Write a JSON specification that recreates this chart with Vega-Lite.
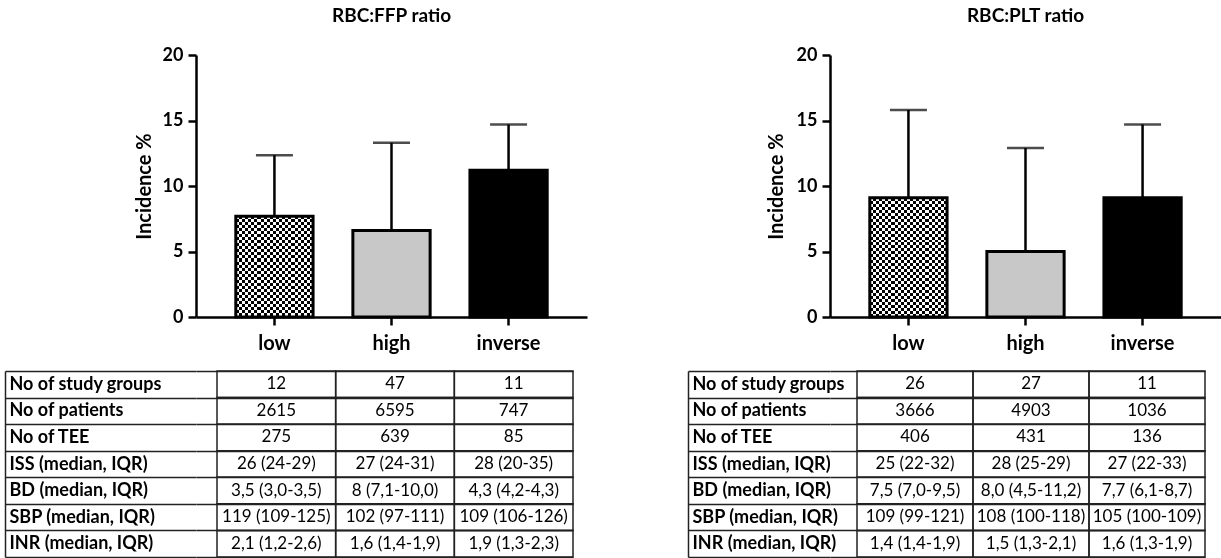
{
  "$schema": "https://vega.github.io/schema/vega-lite/v6.json",
  "padding": {"left": 4, "top": 7, "right": 0, "bottom": 0},
  "background": "white",
  "config": {"font": "Lato", "view": {"stroke": null}},
  "datasets": {
    "bars": [
      {"chart": "FFP", "group": "low", "value": 7.7, "upper": 12.35},
      {"chart": "FFP", "group": "high", "value": 6.6, "upper": 13.3},
      {"chart": "FFP", "group": "inverse", "value": 11.2, "upper": 14.7},
      {"chart": "PLT", "group": "low", "value": 9.1, "upper": 15.8},
      {"chart": "PLT", "group": "high", "value": 5.0, "upper": 12.9},
      {"chart": "PLT", "group": "inverse", "value": 9.1, "upper": 14.7}
    ],
    "tables": [
      {"table": "FFP", "row": "No of study groups", "low": "12", "high": "47", "inverse": "11"},
      {"table": "FFP", "row": "No of patients", "low": "2615", "high": "6595", "inverse": "747"},
      {"table": "FFP", "row": "No of TEE", "low": "275", "high": "639", "inverse": "85"},
      {"table": "FFP", "row": "ISS (median, IQR)", "low": "26 (24-29)", "high": "27 (24-31)", "inverse": "28 (20-35)"},
      {"table": "FFP", "row": "BD (median, IQR)", "low": "3,5 (3,0-3,5)", "high": "8 (7,1-10,0)", "inverse": "4,3 (4,2-4,3)"},
      {"table": "FFP", "row": "SBP (median, IQR)", "low": "119 (109-125)", "high": "102 (97-111)", "inverse": "109 (106-126)"},
      {"table": "FFP", "row": "INR (median, IQR)", "low": "2,1 (1,2-2,6)", "high": "1,6 (1,4-1,9)", "inverse": "1,9 (1,3-2,3)"},
      {"table": "PLT", "row": "No of study groups", "low": "26", "high": "27", "inverse": "11"},
      {"table": "PLT", "row": "No of patients", "low": "3666", "high": "4903", "inverse": "1036"},
      {"table": "PLT", "row": "No of TEE", "low": "406", "high": "431", "inverse": "136"},
      {"table": "PLT", "row": "ISS (median, IQR)", "low": "25 (22-32)", "high": "28 (25-29)", "inverse": "27 (22-33)"},
      {"table": "PLT", "row": "BD (median, IQR)", "low": "7,5 (7,0-9,5)", "high": "8,0 (4,5-11,2)", "inverse": "7,7 (6,1-8,7)"},
      {"table": "PLT", "row": "SBP (median, IQR)", "low": "109 (99-121)", "high": "108 (100-118)", "inverse": "105 (100-109)"},
      {"table": "PLT", "row": "INR (median, IQR)", "low": "1,4 (1,4-1,9)", "high": "1,5 (1,3-2,1)", "inverse": "1,6 (1,3-1,9)"}
    ]
  },
  "spacing": 100,
  "hconcat": [
    {
      "spacing": 9,
      "vconcat": [
        {
          "width": 391,
          "height": 262,
          "title": {"text": "RBC:FFP ratio", "frame": "group", "anchor": "middle", "fontSize": 19, "fontWeight": "bold", "color": "black", "offset": 20},
          "data": {"name": "bars"},
          "transform": [{"filter": "datum.chart === 'FFP'"}],
          "encoding": {
            "x": {"field": "group", "type": "nominal", "sort": ["low", "high", "inverse"], "title": null,
              "scale": {"paddingInner": 0.34, "paddingOuter": 0.34},
              "axis": {"labelAngle": 0, "labelFontSize": 20, "labelFontWeight": "bold", "labelColor": "black", "labelPadding": 8,
                "domainColor": "black", "domainWidth": 2.5, "tickColor": "black", "tickWidth": 2.5, "tickSize": 8}}
          },
          "layer": [
            {
              "mark": {"type": "rule", "color": "black", "strokeWidth": 2.5},
              "encoding": {
                "y": {"field": "value", "type": "quantitative", "title": "Incidence %",
                  "scale": {"domain": [0, 20], "nice": false},
                  "axis": {"values": [0, 5, 10, 15, 20], "grid": false, "labelFontSize": 18, "labelFontWeight": "bold", "labelColor": "black", "labelPadding": 5,
                    "domainColor": "black", "domainWidth": 2.5, "tickColor": "black", "tickWidth": 2.5, "tickSize": 8,
                    "titleFontSize": 20, "titleFontWeight": "bold", "titleColor": "black", "minExtent": 191, "titlePadding": -149}},
                "y2": {"field": "upper"}
              }
            },
            {
              "mark": {"type": "tick", "color": "black", "thickness": 2.5, "size": 37},
              "encoding": {"y": {"field": "upper", "type": "quantitative", "title": "Incidence %"}}
            },
            {
              "transform": [{"filter": "datum.group !== 'low'"}],
              "mark": {"type": "bar", "stroke": "black", "strokeWidth": 3},
              "encoding": {
                "y": {"field": "value", "type": "quantitative", "title": "Incidence %"},
                "fill": {"field": "group", "type": "nominal", "scale": {"domain": ["high", "inverse"], "range": ["#c8c8c8", "#000000"]}, "legend": null}
              }
            },
            {
              "transform": [{"filter": "datum.group === 'low'"}],
              "mark": {"type": "bar", "strokeWidth": 0, "fill": {"gradient": "linear", "x1": 0, "y1": 0, "x2": 1, "y2": 0, "stops": [
                {"offset": 0, "color": "#000"}, {"offset": 0.04, "color": "#000"},
                {"offset": 0.04, "color": "#fff"}, {"offset": 0.08, "color": "#fff"},
                {"offset": 0.08, "color": "#000"}, {"offset": 0.12, "color": "#000"},
                {"offset": 0.12, "color": "#fff"}, {"offset": 0.16, "color": "#fff"},
                {"offset": 0.16, "color": "#000"}, {"offset": 0.2, "color": "#000"},
                {"offset": 0.2, "color": "#fff"}, {"offset": 0.24, "color": "#fff"},
                {"offset": 0.24, "color": "#000"}, {"offset": 0.28, "color": "#000"},
                {"offset": 0.28, "color": "#fff"}, {"offset": 0.32, "color": "#fff"},
                {"offset": 0.32, "color": "#000"}, {"offset": 0.36, "color": "#000"},
                {"offset": 0.36, "color": "#fff"}, {"offset": 0.4, "color": "#fff"},
                {"offset": 0.4, "color": "#000"}, {"offset": 0.44, "color": "#000"},
                {"offset": 0.44, "color": "#fff"}, {"offset": 0.48, "color": "#fff"},
                {"offset": 0.48, "color": "#000"}, {"offset": 0.52, "color": "#000"},
                {"offset": 0.52, "color": "#fff"}, {"offset": 0.56, "color": "#fff"},
                {"offset": 0.56, "color": "#000"}, {"offset": 0.6, "color": "#000"},
                {"offset": 0.6, "color": "#fff"}, {"offset": 0.64, "color": "#fff"},
                {"offset": 0.64, "color": "#000"}, {"offset": 0.68, "color": "#000"},
                {"offset": 0.68, "color": "#fff"}, {"offset": 0.72, "color": "#fff"},
                {"offset": 0.72, "color": "#000"}, {"offset": 0.76, "color": "#000"},
                {"offset": 0.76, "color": "#fff"}, {"offset": 0.8, "color": "#fff"},
                {"offset": 0.8, "color": "#000"}, {"offset": 0.84, "color": "#000"},
                {"offset": 0.84, "color": "#fff"}, {"offset": 0.88, "color": "#fff"},
                {"offset": 0.88, "color": "#000"}, {"offset": 0.92, "color": "#000"},
                {"offset": 0.92, "color": "#fff"}, {"offset": 0.96, "color": "#fff"},
                {"offset": 0.96, "color": "#000"}, {"offset": 1, "color": "#000"}]}},
              "encoding": {"y": {"field": "value", "type": "quantitative", "title": "Incidence %"}}
            },
            {
              "transform": [{"filter": "datum.group === 'low'"}],
              "mark": {"type": "bar", "strokeWidth": 0, "blend": "difference", "fill": {"gradient": "linear", "x1": 0, "y1": 0, "x2": 0, "y2": 1, "stops": [
                {"offset": 0, "color": "#fff"}, {"offset": 0.03, "color": "#fff"},
                {"offset": 0.03, "color": "#000"}, {"offset": 0.06, "color": "#000"},
                {"offset": 0.06, "color": "#fff"}, {"offset": 0.09, "color": "#fff"},
                {"offset": 0.09, "color": "#000"}, {"offset": 0.12, "color": "#000"},
                {"offset": 0.12, "color": "#fff"}, {"offset": 0.15, "color": "#fff"},
                {"offset": 0.15, "color": "#000"}, {"offset": 0.18, "color": "#000"},
                {"offset": 0.18, "color": "#fff"}, {"offset": 0.21, "color": "#fff"},
                {"offset": 0.21, "color": "#000"}, {"offset": 0.24, "color": "#000"},
                {"offset": 0.24, "color": "#fff"}, {"offset": 0.27, "color": "#fff"},
                {"offset": 0.27, "color": "#000"}, {"offset": 0.3, "color": "#000"},
                {"offset": 0.3, "color": "#fff"}, {"offset": 0.33, "color": "#fff"},
                {"offset": 0.33, "color": "#000"}, {"offset": 0.36, "color": "#000"},
                {"offset": 0.36, "color": "#fff"}, {"offset": 0.39, "color": "#fff"},
                {"offset": 0.39, "color": "#000"}, {"offset": 0.42, "color": "#000"},
                {"offset": 0.42, "color": "#fff"}, {"offset": 0.45, "color": "#fff"},
                {"offset": 0.45, "color": "#000"}, {"offset": 0.48, "color": "#000"},
                {"offset": 0.48, "color": "#fff"}, {"offset": 0.51, "color": "#fff"},
                {"offset": 0.51, "color": "#000"}, {"offset": 0.54, "color": "#000"},
                {"offset": 0.54, "color": "#fff"}, {"offset": 0.57, "color": "#fff"},
                {"offset": 0.57, "color": "#000"}, {"offset": 0.6, "color": "#000"},
                {"offset": 0.6, "color": "#fff"}, {"offset": 0.63, "color": "#fff"},
                {"offset": 0.63, "color": "#000"}, {"offset": 0.66, "color": "#000"},
                {"offset": 0.66, "color": "#fff"}, {"offset": 0.69, "color": "#fff"},
                {"offset": 0.69, "color": "#000"}, {"offset": 0.72, "color": "#000"},
                {"offset": 0.72, "color": "#fff"}, {"offset": 0.75, "color": "#fff"},
                {"offset": 0.75, "color": "#000"}, {"offset": 0.78, "color": "#000"},
                {"offset": 0.78, "color": "#fff"}, {"offset": 0.81, "color": "#fff"},
                {"offset": 0.81, "color": "#000"}, {"offset": 0.84, "color": "#000"},
                {"offset": 0.84, "color": "#fff"}, {"offset": 0.87, "color": "#fff"},
                {"offset": 0.87, "color": "#000"}, {"offset": 0.9, "color": "#000"},
                {"offset": 0.9, "color": "#fff"}, {"offset": 0.93, "color": "#fff"},
                {"offset": 0.93, "color": "#000"}, {"offset": 0.96, "color": "#000"},
                {"offset": 0.96, "color": "#fff"}, {"offset": 0.99, "color": "#fff"},
                {"offset": 0.99, "color": "#000"}, {"offset": 1, "color": "#000"}]}},
              "encoding": {"y": {"field": "value", "type": "quantitative", "title": "Incidence %"}}
            },
            {
              "transform": [{"filter": "datum.group === 'low'"}],
              "mark": {"type": "bar", "fill": "transparent", "stroke": "black", "strokeWidth": 3},
              "encoding": {"y": {"field": "value", "type": "quantitative", "title": "Incidence %"}}
            }
          ]
        },
        {
          "width": 377,
          "height": 186,
          "data": {"name": "tables"},
          "transform": [{"filter": "datum.table === 'FFP'"}, {"fold": ["low", "high", "inverse"], "as": ["group", "cell"]}],
          "encoding": {
            "x": {"field": "group", "type": "nominal", "sort": ["low", "high", "inverse"], "title": null,
              "scale": {"paddingInner": 0, "paddingOuter": 0.0885, "align": 1}, "axis": null},
            "y": {"field": "row", "type": "nominal", "sort": null, "title": null,
              "scale": {"paddingInner": 0, "paddingOuter": 0},
              "axis": {"orient": "left", "offset": 191, "domain": true, "domainColor": "#222", "domainWidth": 1.5,
                "ticks": true, "tickSize": -191, "tickBand": "extent", "tickColor": "#222", "tickWidth": 1.5,
                "grid": true, "gridColor": "#222", "gridWidth": 1.5, "gridOpacity": 1,
                "labelAlign": "left", "labelPadding": 187, "labelFontSize": 18, "labelFontWeight": "bold", "labelColor": "black", "labelLimit": 400}}
          },
          "layer": [
            {"mark": {"type": "rect", "fill": "transparent", "stroke": "#222", "strokeWidth": 1.5}},
            {"mark": {"type": "text", "fontSize": 17, "color": "black"}, "encoding": {"text": {"field": "cell"}}}
          ]
        }
      ]
    },
    {
      "spacing": 9,
      "vconcat": [
        {
          "width": 391,
          "height": 262,
          "title": {"text": "RBC:PLT ratio", "frame": "group", "anchor": "middle", "fontSize": 19, "fontWeight": "bold", "color": "black", "offset": 20},
          "data": {"name": "bars"},
          "transform": [{"filter": "datum.chart === 'PLT'"}],
          "encoding": {
            "x": {"field": "group", "type": "nominal", "sort": ["low", "high", "inverse"], "title": null,
              "scale": {"paddingInner": 0.34, "paddingOuter": 0.34},
              "axis": {"labelAngle": 0, "labelFontSize": 20, "labelFontWeight": "bold", "labelColor": "black", "labelPadding": 8,
                "domainColor": "black", "domainWidth": 2.5, "tickColor": "black", "tickWidth": 2.5, "tickSize": 8}}
          },
          "layer": [
            {
              "mark": {"type": "rule", "color": "black", "strokeWidth": 2.5},
              "encoding": {
                "y": {"field": "value", "type": "quantitative", "title": "Incidence %",
                  "scale": {"domain": [0, 20], "nice": false},
                  "axis": {"values": [0, 5, 10, 15, 20], "grid": false, "labelFontSize": 18, "labelFontWeight": "bold", "labelColor": "black", "labelPadding": 5,
                    "domainColor": "black", "domainWidth": 2.5, "tickColor": "black", "tickWidth": 2.5, "tickSize": 8,
                    "titleFontSize": 20, "titleFontWeight": "bold", "titleColor": "black", "minExtent": 142, "titlePadding": -98}},
                "y2": {"field": "upper"}
              }
            },
            {
              "mark": {"type": "tick", "color": "black", "thickness": 2.5, "size": 37},
              "encoding": {"y": {"field": "upper", "type": "quantitative", "title": "Incidence %"}}
            },
            {
              "transform": [{"filter": "datum.group !== 'low'"}],
              "mark": {"type": "bar", "stroke": "black", "strokeWidth": 3},
              "encoding": {
                "y": {"field": "value", "type": "quantitative", "title": "Incidence %"},
                "fill": {"field": "group", "type": "nominal", "scale": {"domain": ["high", "inverse"], "range": ["#c8c8c8", "#000000"]}, "legend": null}
              }
            },
            {
              "transform": [{"filter": "datum.group === 'low'"}],
              "mark": {"type": "bar", "strokeWidth": 0, "fill": {"gradient": "linear", "x1": 0, "y1": 0, "x2": 1, "y2": 0, "stops": [
                {"offset": 0, "color": "#000"}, {"offset": 0.04, "color": "#000"},
                {"offset": 0.04, "color": "#fff"}, {"offset": 0.08, "color": "#fff"},
                {"offset": 0.08, "color": "#000"}, {"offset": 0.12, "color": "#000"},
                {"offset": 0.12, "color": "#fff"}, {"offset": 0.16, "color": "#fff"},
                {"offset": 0.16, "color": "#000"}, {"offset": 0.2, "color": "#000"},
                {"offset": 0.2, "color": "#fff"}, {"offset": 0.24, "color": "#fff"},
                {"offset": 0.24, "color": "#000"}, {"offset": 0.28, "color": "#000"},
                {"offset": 0.28, "color": "#fff"}, {"offset": 0.32, "color": "#fff"},
                {"offset": 0.32, "color": "#000"}, {"offset": 0.36, "color": "#000"},
                {"offset": 0.36, "color": "#fff"}, {"offset": 0.4, "color": "#fff"},
                {"offset": 0.4, "color": "#000"}, {"offset": 0.44, "color": "#000"},
                {"offset": 0.44, "color": "#fff"}, {"offset": 0.48, "color": "#fff"},
                {"offset": 0.48, "color": "#000"}, {"offset": 0.52, "color": "#000"},
                {"offset": 0.52, "color": "#fff"}, {"offset": 0.56, "color": "#fff"},
                {"offset": 0.56, "color": "#000"}, {"offset": 0.6, "color": "#000"},
                {"offset": 0.6, "color": "#fff"}, {"offset": 0.64, "color": "#fff"},
                {"offset": 0.64, "color": "#000"}, {"offset": 0.68, "color": "#000"},
                {"offset": 0.68, "color": "#fff"}, {"offset": 0.72, "color": "#fff"},
                {"offset": 0.72, "color": "#000"}, {"offset": 0.76, "color": "#000"},
                {"offset": 0.76, "color": "#fff"}, {"offset": 0.8, "color": "#fff"},
                {"offset": 0.8, "color": "#000"}, {"offset": 0.84, "color": "#000"},
                {"offset": 0.84, "color": "#fff"}, {"offset": 0.88, "color": "#fff"},
                {"offset": 0.88, "color": "#000"}, {"offset": 0.92, "color": "#000"},
                {"offset": 0.92, "color": "#fff"}, {"offset": 0.96, "color": "#fff"},
                {"offset": 0.96, "color": "#000"}, {"offset": 1, "color": "#000"}]}},
              "encoding": {"y": {"field": "value", "type": "quantitative", "title": "Incidence %"}}
            },
            {
              "transform": [{"filter": "datum.group === 'low'"}],
              "mark": {"type": "bar", "strokeWidth": 0, "blend": "difference", "fill": {"gradient": "linear", "x1": 0, "y1": 0, "x2": 0, "y2": 1, "stops": [
                {"offset": 0, "color": "#fff"}, {"offset": 0.025, "color": "#fff"},
                {"offset": 0.025, "color": "#000"}, {"offset": 0.05, "color": "#000"},
                {"offset": 0.05, "color": "#fff"}, {"offset": 0.075, "color": "#fff"},
                {"offset": 0.075, "color": "#000"}, {"offset": 0.1, "color": "#000"},
                {"offset": 0.1, "color": "#fff"}, {"offset": 0.125, "color": "#fff"},
                {"offset": 0.125, "color": "#000"}, {"offset": 0.15, "color": "#000"},
                {"offset": 0.15, "color": "#fff"}, {"offset": 0.175, "color": "#fff"},
                {"offset": 0.175, "color": "#000"}, {"offset": 0.2, "color": "#000"},
                {"offset": 0.2, "color": "#fff"}, {"offset": 0.225, "color": "#fff"},
                {"offset": 0.225, "color": "#000"}, {"offset": 0.25, "color": "#000"},
                {"offset": 0.25, "color": "#fff"}, {"offset": 0.275, "color": "#fff"},
                {"offset": 0.275, "color": "#000"}, {"offset": 0.3, "color": "#000"},
                {"offset": 0.3, "color": "#fff"}, {"offset": 0.325, "color": "#fff"},
                {"offset": 0.325, "color": "#000"}, {"offset": 0.35, "color": "#000"},
                {"offset": 0.35, "color": "#fff"}, {"offset": 0.375, "color": "#fff"},
                {"offset": 0.375, "color": "#000"}, {"offset": 0.4, "color": "#000"},
                {"offset": 0.4, "color": "#fff"}, {"offset": 0.425, "color": "#fff"},
                {"offset": 0.425, "color": "#000"}, {"offset": 0.45, "color": "#000"},
                {"offset": 0.45, "color": "#fff"}, {"offset": 0.475, "color": "#fff"},
                {"offset": 0.475, "color": "#000"}, {"offset": 0.5, "color": "#000"},
                {"offset": 0.5, "color": "#fff"}, {"offset": 0.525, "color": "#fff"},
                {"offset": 0.525, "color": "#000"}, {"offset": 0.55, "color": "#000"},
                {"offset": 0.55, "color": "#fff"}, {"offset": 0.575, "color": "#fff"},
                {"offset": 0.575, "color": "#000"}, {"offset": 0.6, "color": "#000"},
                {"offset": 0.6, "color": "#fff"}, {"offset": 0.625, "color": "#fff"},
                {"offset": 0.625, "color": "#000"}, {"offset": 0.65, "color": "#000"},
                {"offset": 0.65, "color": "#fff"}, {"offset": 0.675, "color": "#fff"},
                {"offset": 0.675, "color": "#000"}, {"offset": 0.7, "color": "#000"},
                {"offset": 0.7, "color": "#fff"}, {"offset": 0.725, "color": "#fff"},
                {"offset": 0.725, "color": "#000"}, {"offset": 0.75, "color": "#000"},
                {"offset": 0.75, "color": "#fff"}, {"offset": 0.775, "color": "#fff"},
                {"offset": 0.775, "color": "#000"}, {"offset": 0.8, "color": "#000"},
                {"offset": 0.8, "color": "#fff"}, {"offset": 0.825, "color": "#fff"},
                {"offset": 0.825, "color": "#000"}, {"offset": 0.85, "color": "#000"},
                {"offset": 0.85, "color": "#fff"}, {"offset": 0.875, "color": "#fff"},
                {"offset": 0.875, "color": "#000"}, {"offset": 0.9, "color": "#000"},
                {"offset": 0.9, "color": "#fff"}, {"offset": 0.925, "color": "#fff"},
                {"offset": 0.925, "color": "#000"}, {"offset": 0.95, "color": "#000"},
                {"offset": 0.95, "color": "#fff"}, {"offset": 0.975, "color": "#fff"},
                {"offset": 0.975, "color": "#000"}, {"offset": 1, "color": "#000"}]}},
              "encoding": {"y": {"field": "value", "type": "quantitative", "title": "Incidence %"}}
            },
            {
              "transform": [{"filter": "datum.group === 'low'"}],
              "mark": {"type": "bar", "fill": "transparent", "stroke": "black", "strokeWidth": 3},
              "encoding": {"y": {"field": "value", "type": "quantitative", "title": "Incidence %"}}
            }
          ]
        },
        {
          "width": 375,
          "height": 186,
          "data": {"name": "tables"},
          "transform": [{"filter": "datum.table === 'PLT'"}, {"fold": ["low", "high", "inverse"], "as": ["group", "cell"]}],
          "encoding": {
            "x": {"field": "group", "type": "nominal", "sort": ["low", "high", "inverse"], "title": null,
              "scale": {"paddingInner": 0, "paddingOuter": 0.1164, "align": 1}, "axis": null},
            "y": {"field": "row", "type": "nominal", "sort": null, "title": null,
              "scale": {"paddingInner": 0, "paddingOuter": 0},
              "axis": {"orient": "left", "offset": 142, "domain": true, "domainColor": "#222", "domainWidth": 1.5,
                "ticks": true, "tickSize": -142, "tickBand": "extent", "tickColor": "#222", "tickWidth": 1.5,
                "grid": true, "gridColor": "#222", "gridWidth": 1.5, "gridOpacity": 1,
                "labelAlign": "left", "labelPadding": 138, "labelFontSize": 18, "labelFontWeight": "bold", "labelColor": "black", "labelLimit": 400}}
          },
          "layer": [
            {"mark": {"type": "rect", "fill": "transparent", "stroke": "#222", "strokeWidth": 1.5}},
            {"mark": {"type": "text", "fontSize": 17, "color": "black"}, "encoding": {"text": {"field": "cell"}}}
          ]
        }
      ]
    }
  ]
}
